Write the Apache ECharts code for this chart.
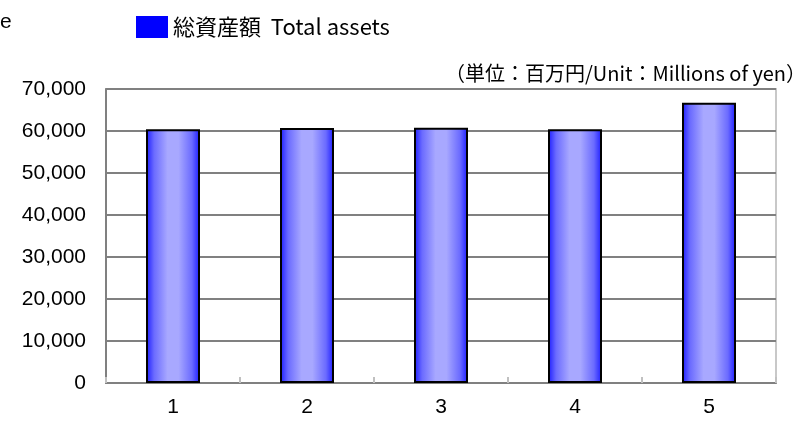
<!DOCTYPE html>
<html>
<head>
<meta charset="utf-8">
<script src="https://cdn.jsdelivr.net/npm/echarts@6/dist/echarts.min.js"></script>
<style>
  html, body { margin: 0; padding: 0; background: #fff; }
  #chart { width: 808px; height: 428px; }
</style>
</head>
<body>
<div id="chart"></div>
<script>
// data
var categories = ["1", "2", "3", "4", "5"];
var totalAssets = [60400, 60700, 60800, 60400, 66700];
var yTicks = [0, 10000, 20000, 30000, 40000, 50000, 60000, 70000];

var myChart = echarts.init(document.getElementById("chart"));
var option = {
  backgroundColor: "#fff",
  animation: false,
  legend: {
    left: 131,
    top: 11,
    itemWidth: 32,
    itemHeight: 22,
    icon: "rect",
    data: [{ name: "総資産額  Total assets", itemStyle: { color: "#0000ff", borderWidth: 0 } }],
    textStyle: {
      fontFamily: "'Noto Sans CJK JP'",
      fontSize: 22,
      color: "#000",
    },
  },
  graphic: [
    {
      type: "text",
      left: 0,
      top: 12,
      style: { text: "e", font: "21px 'Liberation Sans'", fill: "#000" },
    },
    {
      type: "text",
      right: 2,
      top: 63,
      style: {
        text: "（単位：百万円/Unit：Millions of yen）",
        font: "20px 'Noto Sans CJK JP'",
        fill: "#000",
      },
    },
  ],
  grid: {
    left: 106,
    right: 32,
    top: 89,
    bottom: 45,
    show: true,
    borderColor: "#c8c8c8",
    borderWidth: 2,
  },
  xAxis: {
    type: "category",
    data: categories,
    axisLine: { lineStyle: { color: "#808080", width: 2 } },
    axisTick: {
      show: true,
      inside: true,
      length: 6,
      lineStyle: { color: "#c0c0c0", width: 2 },
    },
    axisLabel: {
      margin: 14,
      fontFamily: "'Liberation Sans'",
      fontSize: 21,
      color: "#000",
    },
  },
  yAxis: {
    type: "value",
    min: 0,
    max: 70000,
    interval: 10000,
    axisLine: { show: true, lineStyle: { color: "#808080", width: 2 } },
    axisTick: { show: false },
    splitLine: { lineStyle: { color: "#808080", width: 2 } },
    axisLabel: {
      margin: 20,
      fontFamily: "'Liberation Sans'",
      fontSize: 21,
      color: "#000",
      formatter: function (v) {
        return yTicks.indexOf(v) >= 0 ? v.toLocaleString("en-US") : "";
      },
    },
  },
  series: [
    {
      name: "総資産額  Total assets",
      type: "bar",
      data: totalAssets,
      barWidth: 54,
      itemStyle: {
        borderColor: "#000",
        borderWidth: 2,
        color: new echarts.graphic.LinearGradient(0, 0, 1, 0, [
          { offset: 0, color: "#1a1aff" },
          { offset: 0.15, color: "#6b6bff" },
          { offset: 0.4, color: "#a8a8ff" },
          { offset: 0.6, color: "#a8a8ff" },
          { offset: 0.85, color: "#6b6bff" },
          { offset: 1, color: "#1a1aff" },
        ]),
      },
    },
  ],
};
myChart.setOption(option);
</script>
</body>
</html>
